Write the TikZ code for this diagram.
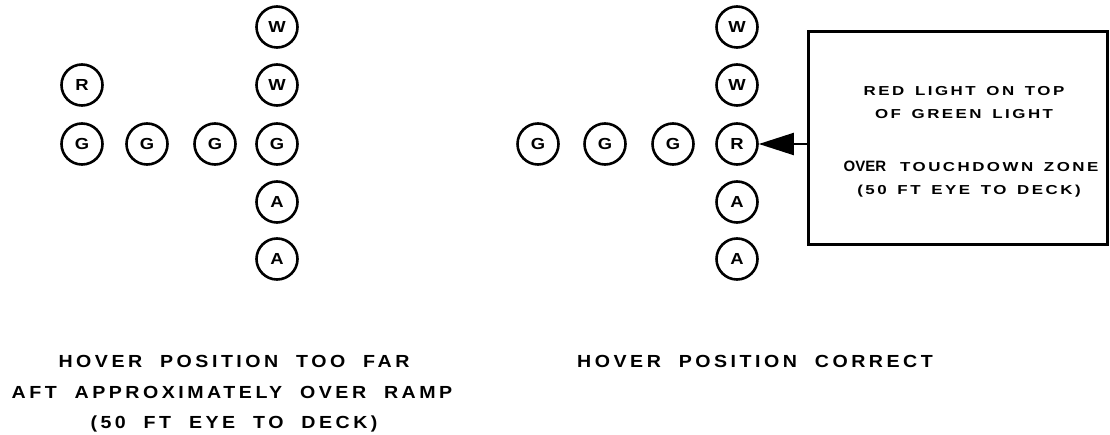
\documentclass[tikz,border=0pt]{standalone}
\usepackage{fontspec}
\setmainfont{Liberation Sans}
\newfontfamily\lampface[FakeStretch=1.15]{Liberation Sans}
\newfontfamily\wideface[FakeStretch=1.12,LetterSpace=20,WordSpace=2]{Liberation Sans}
\newfontfamily\boxface[FakeStretch=1.3,LetterSpace=19,WordSpace=1.5]{Liberation Sans}
\usetikzlibrary{arrows.meta}

\tikzset{
  lamp/.style={circle, draw, line width=2.6pt, minimum size=41pt, inner sep=0pt,
    font=\lampface\bfseries\fontsize{16}{17}\selectfont},
  caption/.style={anchor=base, inner sep=0pt,
    font=\wideface\bfseries\fontsize{17.5}{19}\selectfont},
  boxline/.style={anchor=base, inner sep=0pt,
    font=\boxface\bfseries\fontsize{13}{15}\selectfont},
  notebox/.style={draw, line width=3pt, minimum width=299pt, minimum height=213pt, inner sep=0pt},
}

\begin{document}
\begin{tikzpicture}[x=1pt, y=-1pt]
  \useasboundingbox (0,0) rectangle (1110,435);

  % left lens: glideslope lights with red above the outer green
  \node[lamp] (lR)  at (82,85)   {R};
  \node[lamp] (lG1) at (82,144)  {G};
  \node[lamp] (lG2) at (147,144) {G};
  \node[lamp] (lG3) at (215,144) {G};
  \node[lamp] (lG4) at (277,144) {G};
  \node[lamp] (lW1) at (277,27)  {W};
  \node[lamp] (lW2) at (277,85)  {W};
  \node[lamp] (lA1) at (277,202) {A};
  \node[lamp] (lA2) at (277,259) {A};

  % right lens: red in the centre column
  \node[lamp] (rG1) at (538,144) {G};
  \node[lamp] (rG2) at (605,144) {G};
  \node[lamp] (rG3) at (673,144) {G};
  \node[lamp] (rW1) at (737,27)  {W};
  \node[lamp] (rW2) at (737,85)  {W};
  \node[lamp] (rR)  at (737,144) {R};
  \node[lamp] (rA1) at (737,202) {A};
  \node[lamp] (rA2) at (737,259) {A};

  % explanatory box and pointer
  \node[notebox] (note) at (957.5,138.5) {};
  \node[boxline] (n1) at (964,95.5)  {RED LIGHT ON TOP};
  \node[boxline] (n2) at (964,118.5) {OF GREEN LIGHT};
  \node[boxline] (n3) at (971,171.5) {{\fontspec{Liberation Sans}\bfseries\fontsize{15}{16}\selectfont OVER}\hspace{14pt}TOUCHDOWN ZONE};
  \node[boxline] (n4) at (969,194.5) {(50 FT EYE TO DECK)};
  \draw[line width=2pt, -{Triangle[length=35pt,width=22pt]}]
    (note.west |- rR.east) -- (rR.east);

  % captions
  \node[caption] (c1) at (234,367) {HOVER POSITION TOO FAR};
  \node[caption] (c2) at (232,398) {AFT APPROXIMATELY OVER RAMP};
  \node[caption] (c3) at (234,428) {(50 FT EYE TO DECK)};
  \node[caption] (c4) at (755,367) {HOVER POSITION CORRECT};
\end{tikzpicture}
\end{document}
